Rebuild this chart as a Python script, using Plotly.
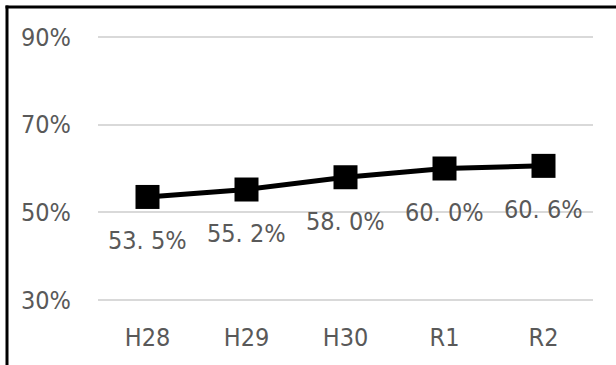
import plotly.graph_objects as go

categories = ["H28", "H29", "H30", "R1", "R2"]
values = [53.5, 55.2, 58.0, 60.0, 60.6]
value_labels = ["53. 5%", "55. 2%", "58. 0%", "60. 0%", "60. 6%"]
y_ticks = [30, 50, 70, 90]
y_tick_labels = ["30%", "50%", "70%", "90%"]

FONT = "DejaVu Sans Condensed, Liberation Sans Narrow, sans-serif"
GREY = "#595959"

fig = go.Figure()
fig.add_trace(go.Scatter(
    x=categories, y=values, mode="lines+markers",
    line=dict(color="black", width=5),
    marker=dict(symbol="square", size=24, color="black"),
    hoverinfo="skip", showlegend=False,
))

for c, v, t in zip(categories, values, value_labels):
    fig.add_annotation(x=c, y=v, text=t, showarrow=False, yshift=-44,
                       font=dict(family=FONT, size=25, color=GREY))

# plot area: x 98..593 px, y ticks 90% at 37 px and 30% at 300 px
T, B = 35, 63
PH = 365 - T - B

def py(px):
    return (365 - B - px) / PH

fig.update_layout(
    width=616, height=365,
    margin=dict(l=98, r=23, t=T, b=B, autoexpand=False),
    paper_bgcolor="white", plot_bgcolor="white",
    font=dict(family=FONT, size=25, color=GREY),
    xaxis=dict(range=[-0.5, len(categories) - 0.5],
               showgrid=False, showline=False, zeroline=False,
               ticks="", ticklabelstandoff=18, automargin=False,
               tickfont=dict(family=FONT, size=25, color=GREY)),
    yaxis=dict(range=[29.5, 90.5], tickvals=y_ticks, ticktext=y_tick_labels,
               showgrid=True, gridcolor="#d9d9d9", gridwidth=2,
               showline=False, zeroline=False, ticks="", ticklabelstandoff=26,
               automargin=False,
               tickfont=dict(family=FONT, size=25, color=GREY)),
    shapes=[
        dict(type="line", xref="paper", yref="paper",
             x0=(7 - 98) / 495, x1=(7 - 98) / 495, y0=py(5.5), y1=py(365),
             line=dict(color="black", width=3)),
        dict(type="line", xref="paper", yref="paper",
             x0=(5.5 - 98) / 495, x1=(616 - 98) / 495, y0=py(7), y1=py(7),
             line=dict(color="black", width=3)),
    ],
)

fig.write_html(
    "out.html", config={"displayModeBar": False},
    post_script=("document.body.style.margin='0';"
                 "document.body.style.overflow='hidden';"
                 "document.documentElement.style.overflow='hidden';"),
)
